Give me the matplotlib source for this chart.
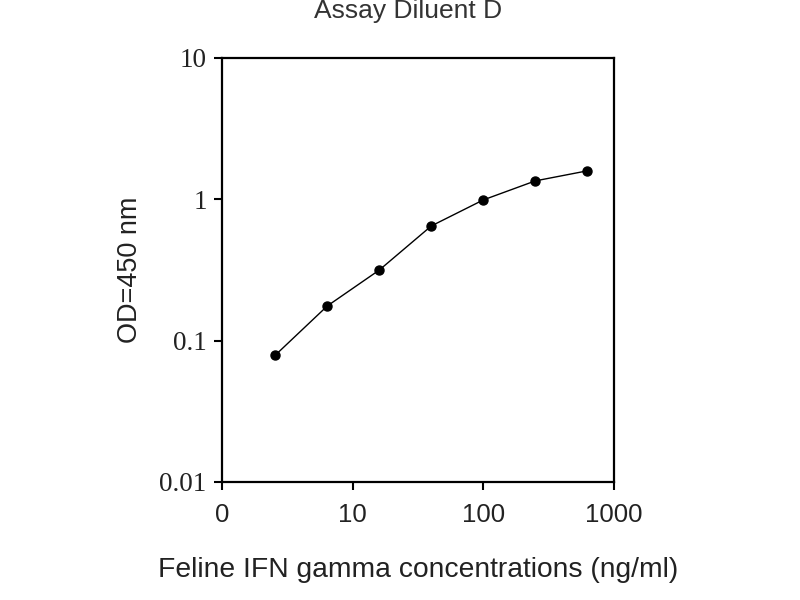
import matplotlib
matplotlib.use("Agg")
import matplotlib.pyplot as plt

# standard curve, feline IFN gamma
conc = [2.56, 6.4, 16, 40, 100, 250, 625]
od = [0.079, 0.176, 0.316, 0.648, 0.99, 1.35, 1.59]

xticks = [1, 10, 100, 1000]
xticklabels = ["0", "10", "100", "1000"]
yticks = [0.01, 0.1, 1, 10]
yticklabels = ["0.01", "0.1", "1", "10"]

fig = plt.figure(figsize=(8, 6), dpi=100)
ax = fig.add_axes([0.2775, 0.1967, 0.49, 0.7067])

ax.plot(conc, od, color="black", lw=1.0, marker="o", ms=6.5, mfc="black", mec="black")

ax.set_xscale("log")
ax.set_yscale("log")
ax.set_xlim(1, 1000)
ax.set_ylim(0.01, 10)
ax.minorticks_off()
ax.set_xticks(xticks)
ax.set_xticklabels(xticklabels, family="Liberation Sans", fontsize=18.5, color="#222222")
ax.set_yticks(yticks)
ax.set_yticklabels(yticklabels, family="Liberation Serif", fontsize=19.5, color="#222222")
ax.tick_params(axis="both", direction="out", length=6, width=1.5)
ax.tick_params(axis="x", pad=9)
ax.tick_params(axis="y", pad=5)

for s in ax.spines.values():
    s.set_linewidth(1.6)

ax.set_xlabel("Feline IFN gamma concentrations (ng/ml)", family="Liberation Sans",
              fontsize=20.3, color="#222222", labelpad=22)
ax.set_ylabel("OD=450 nm", family="Liberation Sans", fontsize=19.5, color="#222222", labelpad=12)

fig.text(0.51, 0.982, "Assay Diluent D", ha="center", va="center",
         family="Liberation Sans", fontsize=19, color="#333333")

fig.savefig("out.png", dpi=100)
